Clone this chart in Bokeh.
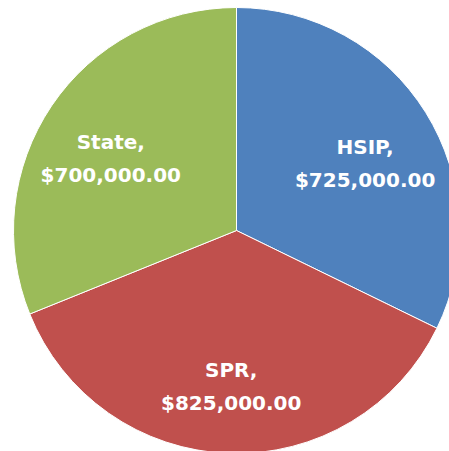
import math
from bokeh.plotting import figure
from bokeh.models import ColumnDataSource, Range1d
from bokeh.core.properties import value
from bokeh.embed import file_html
from bokeh.resources import INLINE

categories = ["HSIP", "SPR", "State"]
amounts = [725000, 825000, 700000]
colors = ["#4F81BD", "#C0504D", "#9BBB59"]
labels = ["HSIP,\n$725,000.00", "SPR,\n$825,000.00", "State,\n$700,000.00"]

W, H = 449, 451
cx, cy, R = 236, H - 230, 223

total = float(sum(amounts))
starts, ends, lx, ly = [], [], [], []
a = math.pi / 2
for v in amounts:
    span = 2 * math.pi * v / total
    starts.append(a)
    ends.append(a - span)
    mid = a - span / 2
    lx.append(cx + 0.68 * R * math.cos(mid))
    ly.append(cy + 0.655 * R * math.sin(mid) - 10)
    a -= span

src = ColumnDataSource(dict(cat=categories, amt=amounts, color=colors,
                            start=starts, end=ends, lx=lx, ly=ly, label=labels))

p = figure(width=W, height=H, output_backend="svg", toolbar_location=None,
           x_range=Range1d(0, W), y_range=Range1d(0, H), min_border=0)
p.axis.visible = False
p.grid.visible = False
p.outline_line_color = None

p.wedge(x=cx, y=cy, radius=R, start_angle="start", end_angle="end",
        direction="clock", fill_color="color", line_color="white",
        line_width=1, source=src)

p.text(x="lx", y="ly", text="label", source=src, text_color="white",
       text_font=value("DejaVu Sans"), text_font_style="bold",
       text_font_size="20px", text_align="center", text_baseline="middle",
       text_line_height=1.38)

open("out.html", "w").write(file_html(p, INLINE))
